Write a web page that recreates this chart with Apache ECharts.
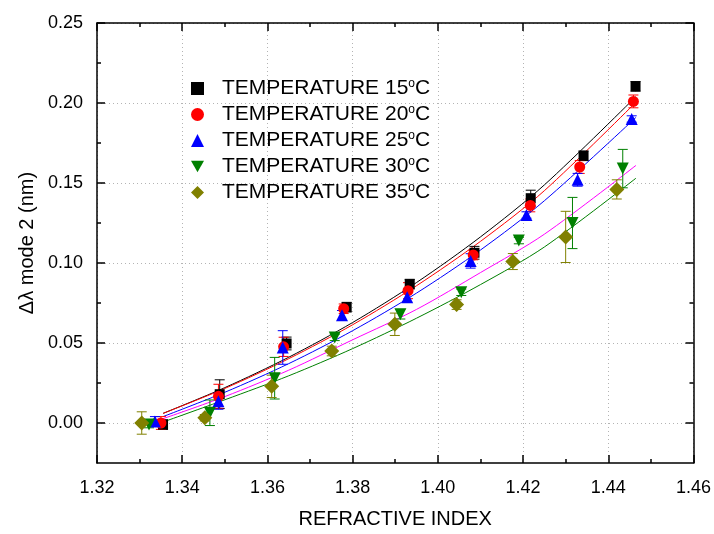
<!DOCTYPE html>
<html>
<head>
<meta charset="utf-8">
<script src="https://cdn.jsdelivr.net/npm/echarts@6/dist/echarts.min.js"></script>
<style>
  html, body { margin: 0; padding: 0; background: #fff; }
  #chart { width: 714px; height: 534px; }
</style>
</head>
<body>
<div id="chart"></div>
<script>
// measured points (refractive index, shift, error)
var x15 = [1.3355, 1.3488, 1.3645, 1.3786, 1.3934, 1.4086, 1.4218, 1.4342, 1.4464]
var y15 = [-0.001, 0.018, 0.0497, 0.0724, 0.0868, 0.1064, 0.1405, 0.167, 0.2104]
var e15 = [0.003, 0.009, 0.004, 0.003, 0.003, 0.004, 0.005, 0.003, 0.003]

var x20 = [1.3350, 1.3485, 1.3638, 1.3779, 1.3930, 1.4083, 1.4217, 1.4333, 1.4459]
var y20 = [0.000, 0.0167, 0.0476, 0.0714, 0.0827, 0.105, 0.136, 0.160, 0.201]
var e20 = [0.004, 0.0075, 0.006, 0.003, 0.005, 0.003, 0.004, 0.004, 0.004]

var x25 = [1.3336, 1.3485, 1.3636, 1.3775, 1.3928, 1.4077, 1.4208, 1.4328, 1.4455]
var y25 = [0.001, 0.0136, 0.0472, 0.0673, 0.0786, 0.1013, 0.130, 0.152, 0.190]
var e25 = [0.003, 0.005, 0.0105, 0.003, 0.003, 0.0045, 0.002, 0.004, 0.002]

var x30 = [1.3322, 1.3465, 1.3617, 1.3758, 1.3912, 1.4055, 1.4190, 1.4316, 1.4434]
var y30 = [-0.001, 0.0064, 0.028, 0.0535, 0.0680, 0.0817, 0.114, 0.125, 0.159]
var e30 = [0.002, 0.008, 0.013, 0.002, 0.003, 0.002, 0.002, 0.016, 0.012]

var x35 = [1.3305, 1.3453, 1.3610, 1.3751, 1.3899, 1.4044, 1.4176, 1.4300, 1.4420]
var y35 = [0.000, 0.0033, 0.0229, 0.045, 0.0617, 0.074, 0.1009, 0.1163, 0.146]
var e35 = [0.007, 0.002, 0.007, 0.003, 0.007, 0.003, 0.005, 0.016, 0.006]

// fitted curves
var fitX = [1.3355, 1.35, 1.365, 1.38, 1.395, 1.41, 1.425, 1.4465]
var fit15 = [0.006, 0.0221, 0.0411, 0.0628, 0.0878, 0.1163, 0.1488, 0.204]
var fit20 = [0.006, 0.0216, 0.0402, 0.0614, 0.0858, 0.1135, 0.1452, 0.2005]
var fit25 = [0.004, 0.0192, 0.0371, 0.0577, 0.0812, 0.1081, 0.1389, 0.191]
var fit30 = [0.0027, 0.0165, 0.033, 0.052, 0.071, 0.094, 0.118, 0.161]
var fit35 = [0.0006, 0.0145, 0.0295, 0.0465, 0.0655, 0.0865, 0.110, 0.153]

var names = ['TEMPERATURE 15ºC', 'TEMPERATURE 20ºC', 'TEMPERATURE 25ºC', 'TEMPERATURE 30ºC', 'TEMPERATURE 35ºC']
var yMajor = [0, 0.05, 0.10, 0.15, 0.20, 0.25]
var yMinor = [0.025, 0.075, 0.125, 0.175, 0.225]

var font = 'Liberation Sans'
var downTriangle = 'path://M0,0 L10,0 L5,9 Z'

function zip2 (a, b) {
  return a.map(function (v, i) { return [v, b[i]] })
}
function zip3 (a, b, c) {
  return a.map(function (v, i) { return [v, b[i], c[i]] })
}

function errorBars (color) {
  return function (params, api) {
    var x = api.value(0)
    var y = api.value(1)
    var e = api.value(2)
    var top = api.coord([x, y + e])
    var bot = api.coord([x, y - e])
    var hw = 5
    var st = { stroke: color, lineWidth: 1 }
    return {
      type: 'group',
      children: [
        { type: 'line', shape: { x1: top[0], y1: top[1], x2: bot[0], y2: bot[1] }, style: st },
        { type: 'line', shape: { x1: top[0] - hw, y1: top[1], x2: top[0] + hw, y2: top[1] }, style: st },
        { type: 'line', shape: { x1: bot[0] - hw, y1: bot[1], x2: bot[0] + hw, y2: bot[1] }, style: st }
      ]
    }
  }
}

var sets = [
  { x: x15, y: y15, e: e15, color: '#000000', symbol: 'rect', size: 10, icon: 'rect' },
  { x: x20, y: y20, e: e20, color: '#ff0000', symbol: 'circle', size: 11, icon: 'circle' },
  { x: x25, y: y25, e: e25, color: '#0000ff', symbol: 'triangle', size: 12, icon: 'triangle' },
  { x: x30, y: y30, e: e30, color: '#008000', symbol: downTriangle, size: 12, icon: downTriangle },
  { x: x35, y: y35, e: e35, color: '#808000', symbol: 'diamond', size: 15, icon: 'diamond' }
]

var fits = [
  { y: fit15, color: '#000000' },
  { y: fit20, color: '#ff0000' },
  { y: fit25, color: '#0000ff' },
  { y: fit30, color: '#ff00ff' },
  { y: fit35, color: '#008000' }
]

var series = []
fits.forEach(function (f, i) {
  series.push({
    name: 'fit' + i,
    type: 'line',
    data: zip2(fitX, f.y),
    smooth: 0.3,
    showSymbol: false,
    symbol: 'none',
    lineStyle: { color: f.color, width: 1 },
    z: 2,
    silent: true
  })
})
sets.forEach(function (s, i) {
  series.push({
    name: 'err' + i,
    type: 'custom',
    data: zip3(s.x, s.y, s.e),
    encode: { x: 0, y: 1 },
    renderItem: errorBars(s.color),
    z: 3,
    silent: true
  })
  series.push({
    name: names[i],
    type: 'scatter',
    data: zip2(s.x, s.y),
    symbol: s.symbol,
    symbolSize: s.size,
    itemStyle: { color: s.color, opacity: 1 },
    z: 4
  })
})

var axisLine = { show: true, onZero: false, lineStyle: { color: '#000', width: 1.5 } }
var noLine = { show: false, onZero: false }
var gridLine = { show: true, lineStyle: { color: '#b4b4b4', type: [1, 3], width: 1 } }
var tickStyle = { color: '#000', width: 1.5 }

var option = {
  backgroundColor: '#fff',
  animation: false,
  textStyle: { fontFamily: font },
  grid: { left: 97, right: 20, top: 23, bottom: 67, containLabel: false },
  legend: {
    data: names.map(function (n, i) { return { name: n, icon: sets[i].icon } }),
    orient: 'vertical',
    left: 186,
    top: 73,
    itemWidth: 13,
    itemHeight: 13,
    itemGap: 5,
    formatter: function (name) {
      return name.replace('º', '{sup|o}')
    },
    textStyle: {
      fontFamily: font,
      fontSize: 21,
      color: '#000',
      padding: [0, 0, 0, 13],
      rich: {
        sup: { fontFamily: font, fontSize: 12, color: '#000', padding: [0, 0, 9, 0] }
      }
    }
  },
  xAxis: [
    {
      type: 'value',
      position: 'bottom',
      min: 1.32,
      max: 1.46,
      interval: 0.02,
      name: 'REFRACTIVE INDEX',
      nameLocation: 'middle',
      nameGap: 46,
      nameTextStyle: { fontFamily: font, fontSize: 20, color: '#000' },
      axisLine: axisLine,
      axisTick: { inside: true, length: 8, lineStyle: tickStyle },
      minorTick: { show: true, splitNumber: 2, length: 4, lineStyle: tickStyle },
      axisLabel: {
        fontFamily: font, fontSize: 18, color: '#000', margin: 16,
        formatter: function (v) { return v.toFixed(2) }
      },
      splitLine: gridLine
    },
    {
      type: 'value',
      position: 'top',
      min: 1.32,
      max: 1.46,
      interval: 0.02,
      axisLine: axisLine,
      axisTick: { inside: true, length: 8, lineStyle: tickStyle },
      minorTick: { show: true, splitNumber: 2, length: 4, lineStyle: tickStyle },
      axisLabel: { show: false },
      splitLine: { show: false }
    }
  ],
  yAxis: [
    {
      type: 'value',
      position: 'left',
      min: -0.025,
      max: 0.25,
      name: 'Δλ mode 2 (nm)',
      nameLocation: 'middle',
      nameGap: 55,
      nameTextStyle: { fontFamily: font, fontSize: 20, color: '#000' },
      axisLine: axisLine,
      axisTick: { inside: true, length: 8, customValues: yMajor, lineStyle: tickStyle },
      axisLabel: {
        fontFamily: font, fontSize: 18, color: '#000', margin: 14,
        customValues: yMajor,
        formatter: function (v) { return v.toFixed(2) }
      },
      splitLine: gridLine
    },
    {
      type: 'value',
      position: 'right',
      min: -0.025,
      max: 0.25,
      axisLine: axisLine,
      axisTick: { inside: true, length: 8, customValues: yMajor, lineStyle: tickStyle },
      axisLabel: { show: false },
      splitLine: { show: false }
    },
    {
      type: 'value',
      position: 'left',
      min: -0.025,
      max: 0.25,
      axisLine: noLine,
      axisTick: { inside: true, length: 4, customValues: yMinor, lineStyle: tickStyle },
      axisLabel: { show: false },
      splitLine: { show: false }
    },
    {
      type: 'value',
      position: 'right',
      min: -0.025,
      max: 0.25,
      axisLine: noLine,
      axisTick: { inside: true, length: 4, customValues: yMinor, lineStyle: tickStyle },
      axisLabel: { show: false },
      splitLine: { show: false }
    }
  ],
  series: series
}

var chart = echarts.init(document.getElementById('chart'))
chart.setOption(option)
</script>
</body>
</html>
